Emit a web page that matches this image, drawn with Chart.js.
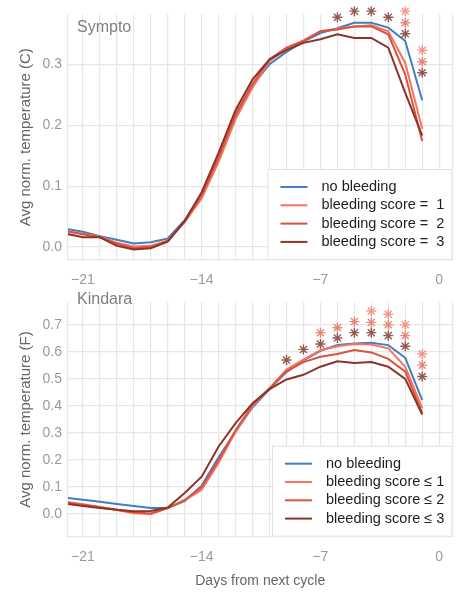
<!DOCTYPE html>
<html>
<head>
<meta charset="utf-8">
<script src="https://cdn.jsdelivr.net/npm/chart.js@4.4.1/dist/chart.umd.min.js"></script>
<style>
  body { margin: 0; background: #fff; }
  #wrap { position: relative; width: 464px; height: 593px; }
  canvas { position: absolute; left: 0; }
</style>
</head>
<body>
<div id="wrap">
  <canvas id="symptoChart" width="464" height="290" style="top:0"></canvas>
  <canvas id="kindaraChart" width="464" height="305" style="top:288px"></canvas>
</div>
<script>
// days before next cycle
const days = [-22, -21, -20, -19, -18, -17, -16, -15, -14, -13, -12, -11, -10, -9, -8, -7, -6, -5, -4, -3, -2, -1];
const xTickLabels = [-21, -14, -7, 0];

// Sympto (C)
const symptoNone = [0.030, 0.025, 0.018, 0.012, 0.006, 0.008, 0.014, 0.044, 0.085, 0.145, 0.215, 0.265, 0.300, 0.320, 0.337, 0.351, 0.359, 0.368, 0.368, 0.360, 0.338, 0.241];
const symptoScore1 = [0.026, 0.022, 0.017, 0.007, 0.001, 0.002, 0.011, 0.041, 0.080, 0.140, 0.210, 0.262, 0.305, 0.326, 0.339, 0.354, 0.358, 0.362, 0.364, 0.354, 0.302, 0.194];
const symptoScore2 = [0.026, 0.021, 0.016, 0.005, -0.002, 0.000, 0.010, 0.042, 0.085, 0.148, 0.218, 0.268, 0.308, 0.327, 0.338, 0.354, 0.357, 0.362, 0.362, 0.349, 0.283, 0.174];
const symptoScore3 = [0.022, 0.016, 0.016, 0.002, -0.004, -0.002, 0.009, 0.043, 0.090, 0.155, 0.225, 0.275, 0.308, 0.323, 0.335, 0.341, 0.349, 0.343, 0.343, 0.327, 0.253, 0.183];
const symptoYTicks = [0.0, 0.1, 0.2, 0.3];

// Kindara (F)
const kindaraNone = [0.060, 0.053, 0.045, 0.037, 0.030, 0.022, 0.022, 0.048, 0.105, 0.210, 0.305, 0.395, 0.462, 0.525, 0.568, 0.604, 0.625, 0.631, 0.634, 0.625, 0.578, 0.421];
const kindaraScore1 = [0.045, 0.036, 0.026, 0.015, 0.003, 0.000, 0.022, 0.050, 0.090, 0.190, 0.305, 0.400, 0.465, 0.535, 0.571, 0.606, 0.621, 0.629, 0.627, 0.613, 0.545, 0.392];
const kindaraScore2 = [0.042, 0.034, 0.025, 0.016, 0.006, 0.002, 0.022, 0.052, 0.100, 0.200, 0.310, 0.405, 0.465, 0.528, 0.562, 0.582, 0.592, 0.607, 0.598, 0.574, 0.527, 0.374];
const kindaraScore3 = [0.038, 0.030, 0.022, 0.016, 0.010, 0.011, 0.024, 0.078, 0.138, 0.250, 0.336, 0.410, 0.462, 0.498, 0.515, 0.545, 0.565, 0.559, 0.562, 0.545, 0.500, 0.368];
const kindaraYTicks = [0.0, 0.1, 0.2, 0.3, 0.4, 0.5, 0.6, 0.7];

// significance asterisks (day, height)
const symptoStar1Days = [-2, -1];
const symptoStar1Y = [0.387, 0.323];
const symptoStar2Days = [-3, -2, -1];
const symptoStar2Y = [0.396, 0.368, 0.304];
const symptoStar3Days = [-6, -5, -4, -3, -2, -1];
const symptoStar3Y = [0.377, 0.387, 0.387, 0.377, 0.350, 0.286];

const kindaraStar1Days = [-4, -3, -2, -1];
const kindaraStar1Y = [0.751, 0.739, 0.700, 0.592];
const kindaraStar2Days = [-7, -6, -5, -4, -3, -2, -1];
const kindaraStar2Y = [0.671, 0.689, 0.712, 0.709, 0.700, 0.660, 0.551];
const kindaraStar3Days = [-9, -8, -7, -6, -5, -4, -3, -2, -1];
const kindaraStar3Y = [0.570, 0.609, 0.629, 0.651, 0.671, 0.671, 0.660, 0.621, 0.509];

const symptoLabels = ['no bleeding', 'bleeding score =  1', 'bleeding score =  2', 'bleeding score =  3'];
const kindaraLabels = ['no bleeding', 'bleeding score \u2264 1', 'bleeding score \u2264 2', 'bleeding score \u2264 3'];

const lineColors = ['#3f7fbf', '#f8735e', '#d95340', '#8a3527'];
const starColors = ['rgba(240,130,112,0.8)', 'rgba(226,110,92,0.8)', 'rgba(125,50,40,0.8)'];

const FONT = '"Liberation Sans", Arial, sans-serif';
const GRID = '#e6e6e6';

function pts(xs, ys) {
    return xs.map((x, i) => ({x: x, y: ys[i]}));
}

// legend box and panel name, drawn inside the plot area
const panelDecor = {
    id: 'panelDecor',
    afterDatasetsDraw(chart, args, opts) {
        const {ctx, chartArea} = chart;
        ctx.save();
        ctx.font = '14.5px ' + FONT;
        const textW = Math.max(...opts.labels.map(t => ctx.measureText(t).width));
        const w = 54 + textW + 8;
        const h = 91;
        const x0 = chartArea.right - w;
        const y0 = chartArea.bottom - h;
        ctx.fillStyle = '#fff';
        ctx.fillRect(x0, y0, w, h);
        ctx.strokeStyle = '#e0e0e0';
        ctx.lineWidth = 1;
        ctx.strokeRect(x0 + 0.5, y0 + 0.5, w - 1, h - 1);
        ctx.textBaseline = 'middle';
        opts.labels.forEach((t, i) => {
            const y = y0 + 18 + i * 18.3;
            ctx.strokeStyle = lineColors[i];
            ctx.lineWidth = 2;
            ctx.beginPath();
            ctx.moveTo(x0 + 13, y);
            ctx.lineTo(x0 + 40, y);
            ctx.stroke();
            ctx.fillStyle = '#1e1e1e';
            ctx.fillText(t, x0 + 54, y);
        });
        ctx.font = '16px ' + FONT;
        ctx.fillStyle = '#7f7f7f';
        ctx.fillText(opts.name, chartArea.left + 9, opts.nameY);
        ctx.restore();
    }
};

function makeChart(id, cfg) {
    const lines = cfg.series.map((vals, i) => ({
        label: cfg.labels[i],
        data: pts(days, vals),
        borderColor: lineColors[i],
        borderWidth: 2,
        pointRadius: 0,
        tension: 0,
        order: 4 - i
    }));
    const stars = cfg.stars.map((s, i) => ({
        type: 'scatter',
        data: pts(s[0], s[1]),
        showLine: false,
        pointStyle: 'star',
        pointRadius: 5,
        pointBorderWidth: 1.4,
        pointBorderColor: starColors[i],
        pointBackgroundColor: starColors[i],
        clip: false,
        order: 0
    }));
    return new Chart(document.getElementById(id).getContext('2d'), {
        type: 'line',
        data: {datasets: lines.concat(stars)},
        options: {
            responsive: false,
            animation: false,
            devicePixelRatio: 1,
            layout: {padding: {top: cfg.padTop, right: 8, left: 0, bottom: 0}},
            plugins: {
                legend: {display: false},
                tooltip: {enabled: false},
                panelDecor: {labels: cfg.labels, name: cfg.name, nameY: cfg.nameY}
            },
            scales: {
                x: {
                    type: 'linear',
                    min: -21.88,
                    max: 0.78,
                    afterBuildTicks: (s) => {
                        const t = [];
                        for (let d = -21; d <= 0; d++) t.push({value: d});
                        t.push({value: 0.78});
                        s.ticks = t;
                    },
                    afterFit: (s) => { s.height = cfg.xHeight; },
                    grid: {color: GRID, lineWidth: 1.2, drawTicks: false},
                    border: {display: true, color: GRID, width: 1.2},
                    ticks: {
                        autoSkip: false,
                        maxRotation: 0,
                        padding: 11.6,
                        color: '#9a9a9a',
                        font: {family: FONT, size: 14},
                        callback: (v) => xTickLabels.includes(v) ? (v < 0 ? '\u2212' + Math.abs(v) : String(v)) : ''
                    },
                    title: {
                        display: cfg.xTitle !== '',
                        text: cfg.xTitle,
                        color: '#666',
                        font: {family: FONT, size: 14},
                        padding: {top: 0, bottom: 3}
                    }
                },
                y: {
                    min: cfg.yMin,
                    max: cfg.yMax,
                    afterBuildTicks: (s) => { s.ticks = cfg.yTicks.map(v => ({value: v})); },
                    afterFit: (s) => { s.width = 68; },
                    grid: {color: GRID, lineWidth: 1.2, drawTicks: false},
                    border: {display: true, color: GRID, width: 1.2},
                    ticks: {
                        padding: 6,
                        color: '#9a9a9a',
                        font: {family: FONT, size: 14},
                        callback: (v) => v.toFixed(1)
                    },
                    title: {
                        display: true,
                        text: cfg.yTitle,
                        color: '#666',
                        font: {family: FONT, size: 15},
                        padding: {top: 16.6, bottom: 0}
                    }
                }
            }
        },
        plugins: [panelDecor]
    });
}

makeChart('symptoChart', {
    series: [symptoNone, symptoScore1, symptoScore2, symptoScore3],
    labels: symptoLabels,
    stars: [[symptoStar1Days, symptoStar1Y], [symptoStar2Days, symptoStar2Y], [symptoStar3Days, symptoStar3Y]],
    yTicks: symptoYTicks,
    yMin: -0.0212,
    yMax: 0.3817,
    yTitle: 'Avg norm. temperature (C)',
    xTitle: '',
    name: 'Sympto',
    nameY: 28,
    padTop: 13,
    xHeight: 30
});

makeChart('kindaraChart', {
    series: [kindaraNone, kindaraScore1, kindaraScore2, kindaraScore3],
    labels: kindaraLabels,
    stars: [[kindaraStar1Days, kindaraStar1Y], [kindaraStar2Days, kindaraStar2Y], [kindaraStar3Days, kindaraStar3Y]],
    yTicks: kindaraYTicks,
    yMin: -0.084,
    yMax: 0.783,
    yTitle: 'Avg norm. temperature (F)',
    xTitle: 'Days from next cycle',
    name: 'Kindara',
    nameY: 11.6,
    padTop: 1,
    xHeight: 56.3
});
</script>
</body>
</html>
